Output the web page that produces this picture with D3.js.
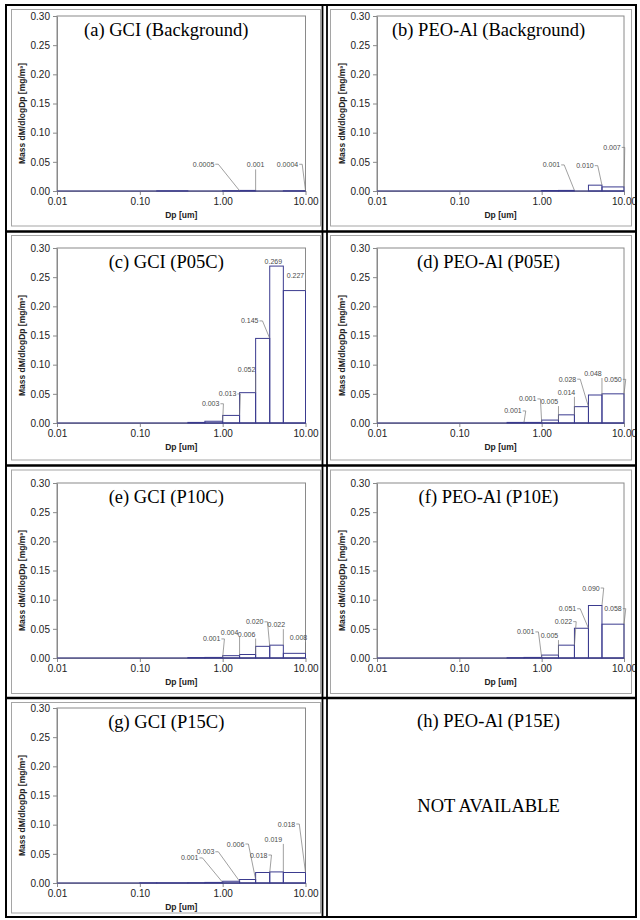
<!DOCTYPE html>
<html lang="en">
<head>
<meta charset="UTF-8">
<title>Mass size distributions, GCI vs PEO-Al</title>
<script src="https://cdn.jsdelivr.net/npm/d3@7"></script>
<style>
    body { margin: 0; background: #fff; }
    .tick-text { font-family: "Liberation Sans", Arial, sans-serif; font-size: 10px; fill: #222; }
    .axis-name { font-family: "Liberation Sans", Arial, sans-serif; font-size: 8.5px; font-weight: bold; fill: #222; }
    .panel-title { font-family: "Liberation Serif", "Times New Roman", serif; font-size: 18.5px; fill: #000; }
    .data-label { font-family: "Liberation Sans", Arial, sans-serif; font-size: 7px; fill: #4a4a4a; opacity: 0.99; }
</style>
</head>
<body>
<script>
    // impactor stage edges (um)
    const binEdges = [0.01, 0.1, 0.16, 0.38, 0.61, 1.0, 1.6, 2.5, 3.7, 5.4, 10];

    // dM/dlogDp per stage [mg/m3]
    const massA = [0, 0, 0.0003, 0, 0, 0.0005, 0.001, 0, 0, 0.0004];
    const massB = [0, 0, 0, 0, 0, 0.0008, 0.001, 0, 0.010, 0.007];
    const massC = [0, 0, 0, 0.001, 0.003, 0.013, 0.052, 0.145, 0.269, 0.227];
    const massD = [0, 0, 0, 0.001, 0.001, 0.005, 0.014, 0.028, 0.048, 0.050];
    const massE = [0, 0, 0, 0.0008, 0.001, 0.004, 0.006, 0.020, 0.022, 0.008];
    const massF = [0, 0, 0, 0.0005, 0.001, 0.005, 0.022, 0.051, 0.090, 0.058];
    const massG = [0, 0.0003, 0.0003, 0.0005, 0.001, 0.003, 0.006, 0.018, 0.019, 0.018];

    // data labels as printed on the chart (null = no label)
    const labelsA = [null, null, null, null, null, '0.0005', '0.001', null, null, '0.0004'];
    const labelsB = [null, null, null, null, null, null, '0.001', null, '0.010', '0.007'];
    const labelsC = [null, null, null, null, '0.003', '0.013', '0.052', '0.145', '0.269', '0.227'];
    const labelsD = [null, null, null, '0.001', '0.001', '0.005', '0.014', '0.028', '0.048', '0.050'];
    const labelsE = [null, null, null, null, '0.001', '0.004', '0.006', '0.020', '0.022', '0.008'];
    const labelsF = [null, null, null, null, '0.001', '0.005', '0.022', '0.051', '0.090', '0.058'];
    const labelsG = [null, null, null, null, '0.001', '0.003', '0.006', '0.018', '0.019', '0.018'];

    const yTicks = [0, 0.05, 0.10, 0.15, 0.20, 0.25, 0.30];
    const xTicks = [0.01, 0.1, 1, 10];

    const panels = [
        { key: 'a', title: '(a) GCI (Background)', values: massA, labels: labelsA, col: 0, row: 0 },
        { key: 'b', title: '(b) PEO-Al (Background)', values: massB, labels: labelsB, col: 1, row: 0 },
        { key: 'c', title: '(c) GCI (P05C)', values: massC, labels: labelsC, col: 0, row: 1 },
        { key: 'd', title: '(d) PEO-Al (P05E)', values: massD, labels: labelsD, col: 1, row: 1 },
        { key: 'e', title: '(e) GCI (P10C)', values: massE, labels: labelsE, col: 0, row: 2 },
        { key: 'f', title: '(f) PEO-Al (P10E)', values: massF, labels: labelsF, col: 1, row: 2 },
        { key: 'g', title: '(g) GCI (P15C)', values: massG, labels: labelsG, col: 0, row: 3 },
        { key: 'h', title: '(h) PEO-Al (P15E)', values: null, labels: null, col: 1, row: 3 }
    ];

    // where each label sits relative to its bar's top-right corner (px)
    const labelOffsets = {
        a: [[-36, -24], [0, -23], [-18, -24]],
        b: [[-23, -23], [-17, -17], [-12, -37]],
        c: [[-12, -15], [-12, -19], [-9, -21], [-20, -15], [-10, -2], [-10, -13]],
        d: [[-11, -9], [-14, -21], [-9, -16], [-8, -20], [-21, -25], [-9, -19], [-11, -12]],
        e: [[-11, -16], [-10, -21], [-9, -18], [-15, -22], [-7, -18], [-7, -13]],
        f: [[-16, -23], [-9, -17], [-11, -21], [-21, -17], [-11, -15], [-11, -13]],
        g: [[-33, -22], [-34, -27], [-20, -33], [-11, -15], [-10, -30], [-19, -46]]
    };

    const navy = '#3b3b8f';
    const axisGrey = '#8a8a8a';

    const colLeft = [57, 377];
    const colRight = [305.5, 624];
    const rowTop = [16, 248, 483, 708];
    const plotH = 175;

    // chart-area boxes (light grey) and table cells
    const cellX = [[11.5, 320.5], [330.5, 631.5]];
    const cellY = [[9.5, 226], [235.5, 460], [470, 693.5], [702.5, 913]];

    const svg = d3.select('body').append('svg')
        .attr('width', 640)
        .attr('height', 920);

    svg.append('rect')
        .attr('width', 640).attr('height', 920)
        .attr('fill', '#fff');

    panels.forEach(p => {
        const x0 = colLeft[p.col], x1 = colRight[p.col];
        const top = rowTop[p.row], bottom = top + plotH;
        const g = svg.append('g');

        if (!p.values) {
            const cx = (x0 + x1) / 2 - 12;
            g.append('text').attr('class', 'panel-title')
                .attr('x', cx).attr('y', top + 19)
                .attr('text-anchor', 'middle')
                .text(p.title);
            g.append('text').attr('class', 'panel-title')
                .attr('x', cx).attr('y', top + 104)
                .attr('text-anchor', 'middle')
                .text('NOT AVAILABLE');
            return;
        }

        // chart area border
        g.append('rect')
            .attr('x', cellX[p.col][0]).attr('y', cellY[p.row][0])
            .attr('width', cellX[p.col][1] - cellX[p.col][0])
            .attr('height', cellY[p.row][1] - cellY[p.row][0])
            .attr('fill', 'none').attr('stroke', '#a5a5a5').attr('stroke-width', 1);

        const x = d3.scaleLog().domain([0.01, 10]).range([x0, x1]);
        const y = d3.scaleLinear().domain([0, 0.30]).range([bottom, top]);

        // plot area border
        g.append('rect')
            .attr('x', x0).attr('y', top)
            .attr('width', x1 - x0).attr('height', plotH)
            .attr('fill', 'none').attr('stroke', axisGrey).attr('stroke-width', 1);

        const yAxis = g.append('g')
            .attr('transform', `translate(${x0},0)`)
            .call(d3.axisLeft(y).tickValues(yTicks).tickFormat(d3.format('.2f')).tickSize(4).tickSizeOuter(0));

        const xAxis = g.append('g')
            .attr('transform', `translate(0,${bottom})`)
            .call(d3.axisBottom(x).tickValues(xTicks).tickFormat(d3.format('.2f')).tickSize(4).tickSizeOuter(0));

        [yAxis, xAxis].forEach(ax => {
            ax.attr('font-family', null).attr('font-size', null);
            ax.select('.domain').attr('stroke', axisGrey);
            ax.selectAll('.tick line').attr('stroke', axisGrey);
            ax.selectAll('.tick text').attr('class', 'tick-text').attr('fill', null);
        });

        // stage bars, outlined only
        const bins = p.values.map((v, i) => ({ lo: binEdges[i], hi: binEdges[i + 1], v: v, label: p.labels[i] }));

        g.selectAll('.bar')
            .data(bins.filter(b => b.v > 0))
            .join('rect')
            .attr('class', 'bar')
            .attr('x', b => x(b.lo))
            .attr('y', b => y(b.v))
            .attr('width', b => x(b.hi) - x(b.lo))
            .attr('height', b => y(0) - y(b.v))
            .attr('fill', 'none')
            .attr('stroke', navy)
            .attr('stroke-width', 1);

        g.append('line')
            .attr('x1', x(binEdges[0])).attr('x2', x(binEdges[binEdges.length - 1]))
            .attr('y1', y(0)).attr('y2', y(0))
            .attr('stroke', navy).attr('stroke-width', 1.2);

        // data labels with leader lines
        const labelled = bins.filter(b => b.label);
        const offs = labelOffsets[p.key];
        labelled.forEach((b, i) => {
            const px = x(b.hi), py = y(b.v);
            const lx = px + offs[i][0], ly = py + offs[i][1];
            const t = g.append('text').attr('class', 'data-label')
                .attr('x', lx).attr('y', ly)
                .attr('text-anchor', 'middle')
                .text(b.label);
            const w = t.node().getComputedTextLength();
            let pts;
            if (px > lx + w / 2 + 2) {
                pts = [[lx + w / 2 + 1, ly - 2.5], [lx + w / 2 + 4, ly - 2.5], [px, py]];
            } else if (px < lx - w / 2 - 2) {
                pts = [[lx - w / 2 - 1, ly - 2.5], [lx - w / 2 - 4, ly - 2.5], [px, py]];
            } else {
                pts = [[px, ly + 2], [px, py]];
            }
            if (Math.abs(ly - py) > 4) {
                g.append('path')
                    .attr('d', d3.line()(pts))
                    .attr('fill', 'none')
                    .attr('stroke', '#777')
                    .attr('stroke-width', 0.7);
            }
        });

        // titles and axis names
        g.append('text').attr('class', 'panel-title')
            .attr('x', (x0 + x1) / 2 - (p.col === 0 ? 15 : 12))
            .attr('y', top + 20)
            .attr('text-anchor', 'middle')
            .text(p.title);

        g.append('text').attr('class', 'axis-name')
            .attr('x', (x0 + x1) / 2)
            .attr('y', bottom + 27)
            .attr('text-anchor', 'middle')
            .text('Dp [um]');

        g.append('text').attr('class', 'axis-name')
            .attr('transform', `translate(${x0 - 32},${top + plotH / 2 + 10}) rotate(-90)`)
            .attr('text-anchor', 'middle')
            .text('Mass dM/dlogDp [mg/m³]');
    });

    // table rules
    svg.append('rect')
        .attr('x', 6).attr('y', 5)
        .attr('width', 630).attr('height', 912)
        .attr('fill', 'none').attr('stroke', '#000').attr('stroke-width', 2);

    [231.5, 465.5, 698].forEach(yy => {
        svg.append('line')
            .attr('x1', 6).attr('x2', 636)
            .attr('y1', yy).attr('y2', yy)
            .attr('stroke', '#000').attr('stroke-width', 2.5);
    });

    [322.5, 327].forEach(xx => {
        svg.append('line')
            .attr('x1', xx).attr('x2', xx)
            .attr('y1', 5).attr('y2', 917)
            .attr('stroke', '#000').attr('stroke-width', 1.8);
    });
</script>
</body>
</html>
